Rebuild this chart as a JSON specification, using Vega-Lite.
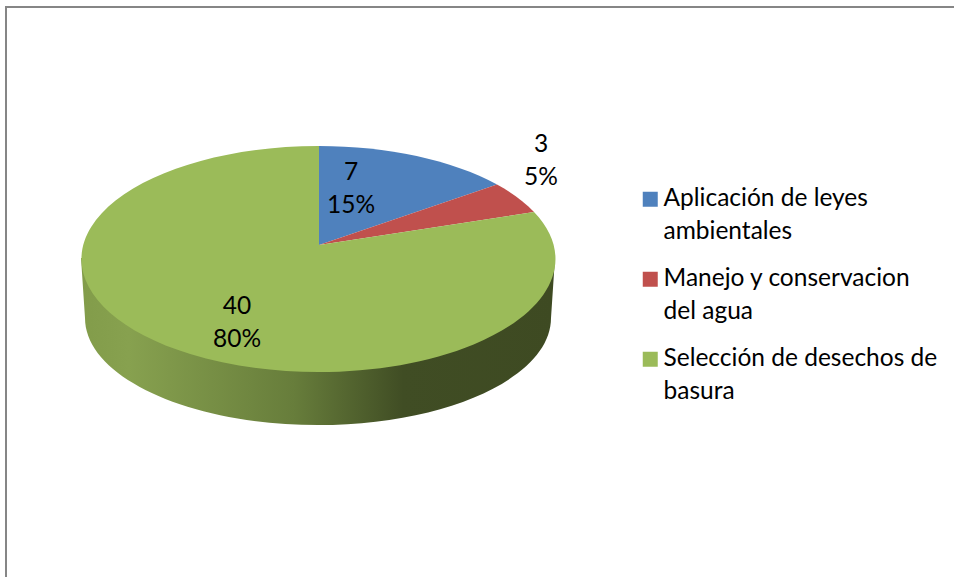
{"$schema":"https://vega.github.io/schema/vega-lite/v6.json","width":950,"height":572,"autosize":"none","padding":{"left":6,"top":7,"right":-2,"bottom":-2},"background":"white","view":{"stroke":"#868686","strokeWidth":2},"data":{"values":[{"categoria":"Aplicación de leyes ambientales","valor":7,"porcentaje":"15%"},{"categoria":"Manejo y conservacion del agua","valor":3,"porcentaje":"5%"},{"categoria":"Selección de desechos de basura","valor":40,"porcentaje":"80%"}]},"encoding":{"x":{"datum":0,"type":"quantitative","scale":{"domain":[-312,638]},"axis":null},"y":{"datum":0,"type":"quantitative","scale":{"domain":[-320,252]},"axis":null}},"layer":[{"transform":[{"filter":"datum.valor == 40"}],"mark":{"type":"point","shape":"M-237,-1 L-233,59 A233,107 0 0 0 233,59 L237,-1 Z","size":4,"filled":true,"opacity":1,"strokeWidth":0,"color":{"gradient":"linear","x1":0,"x2":1,"y1":0,"y2":0,"stops":[{"offset":0,"color":"#829c4a"},{"offset":0.1,"color":"#87a14f"},{"offset":0.45,"color":"#677d3b"},{"offset":0.68,"color":"#404d24"},{"offset":1,"color":"#3e4a22"}]}}},{"mark":{"type":"point","size":4,"filled":true,"opacity":1,"strokeWidth":0},"encoding":{"shape":{"field":"categoria","type":"nominal","legend":null,"scale":{"domain":["Selección de desechos de basura","Manejo y conservacion del agua","Aplicación de leyes ambientales"],"range":["M1,-14 L216,-47 A237,113 0 1 1 1,-113 Z","M1,-14 L179,-74.5 A237,113 0 0 1 216,-47 Z","M1,-14 L1,-113 A237,113 0 0 1 179,-74.5 Z"]}},"fill":{"field":"categoria","type":"nominal","legend":null,"scale":{"domain":["Selección de desechos de basura","Manejo y conservacion del agua","Aplicación de leyes ambientales"],"range":["#9bbb59","#c0504d","#4f81bd"]}}}},{"transform":[{"filter":"datum.valor == 40"}],"mark":{"type":"square","size":0,"opacity":1},"encoding":{"color":{"field":"categoria","type":"nominal","scale":{"domain":["Aplicación de leyes ambientales","Manejo y conservacion del agua","Selección de desechos de basura"],"range":["#4f81bd","#c0504d","#9bbb59"]},"legend":{"title":null,"orient":"none","legendX":632,"legendY":180,"symbolType":"square","symbolSize":225,"symbolStrokeWidth":0,"symbolOpacity":1,"labelFont":"Lato","labelFontSize":24.5,"labelColor":"#000000","labelLimit":400,"labelOffset":1,"rowPadding":22,"encoding":{"labels":{"lineHeight":{"value":33}}},"labelExpr":"datum.label == 'Aplicación de leyes ambientales' ? ['Aplicación de leyes','ambientales'] : datum.label == 'Manejo y conservacion del agua' ? ['Manejo y conservacion','del agua'] : ['Selección de desechos de','basura']"}}}},{"transform":[{"calculate":"datum.valor + '|' + datum.porcentaje","as":"etiqueta"},{"filter":"datum.valor == 7"}],"mark":{"type":"text","font":"Lato","fontSize":24.5,"color":"#000000","lineBreak":"|","lineHeight":33,"baseline":"middle"},"encoding":{"text":{"field":"etiqueta","type":"nominal"},"x":{"datum":33,"type":"quantitative"},"y":{"datum":86,"type":"quantitative"}}},{"transform":[{"calculate":"datum.valor + '|' + datum.porcentaje","as":"etiqueta"},{"filter":"datum.valor == 3"}],"mark":{"type":"text","font":"Lato","fontSize":24.5,"color":"#000000","lineBreak":"|","lineHeight":33,"baseline":"middle"},"encoding":{"text":{"field":"etiqueta","type":"nominal"},"x":{"datum":223,"type":"quantitative"},"y":{"datum":114,"type":"quantitative"}}},{"transform":[{"calculate":"datum.valor + '|' + datum.porcentaje","as":"etiqueta"},{"filter":"datum.valor == 40"}],"mark":{"type":"text","font":"Lato","fontSize":24.5,"color":"#000000","lineBreak":"|","lineHeight":33,"baseline":"middle"},"encoding":{"text":{"field":"etiqueta","type":"nominal"},"x":{"datum":-81,"type":"quantitative"},"y":{"datum":-48,"type":"quantitative"}}}]}
